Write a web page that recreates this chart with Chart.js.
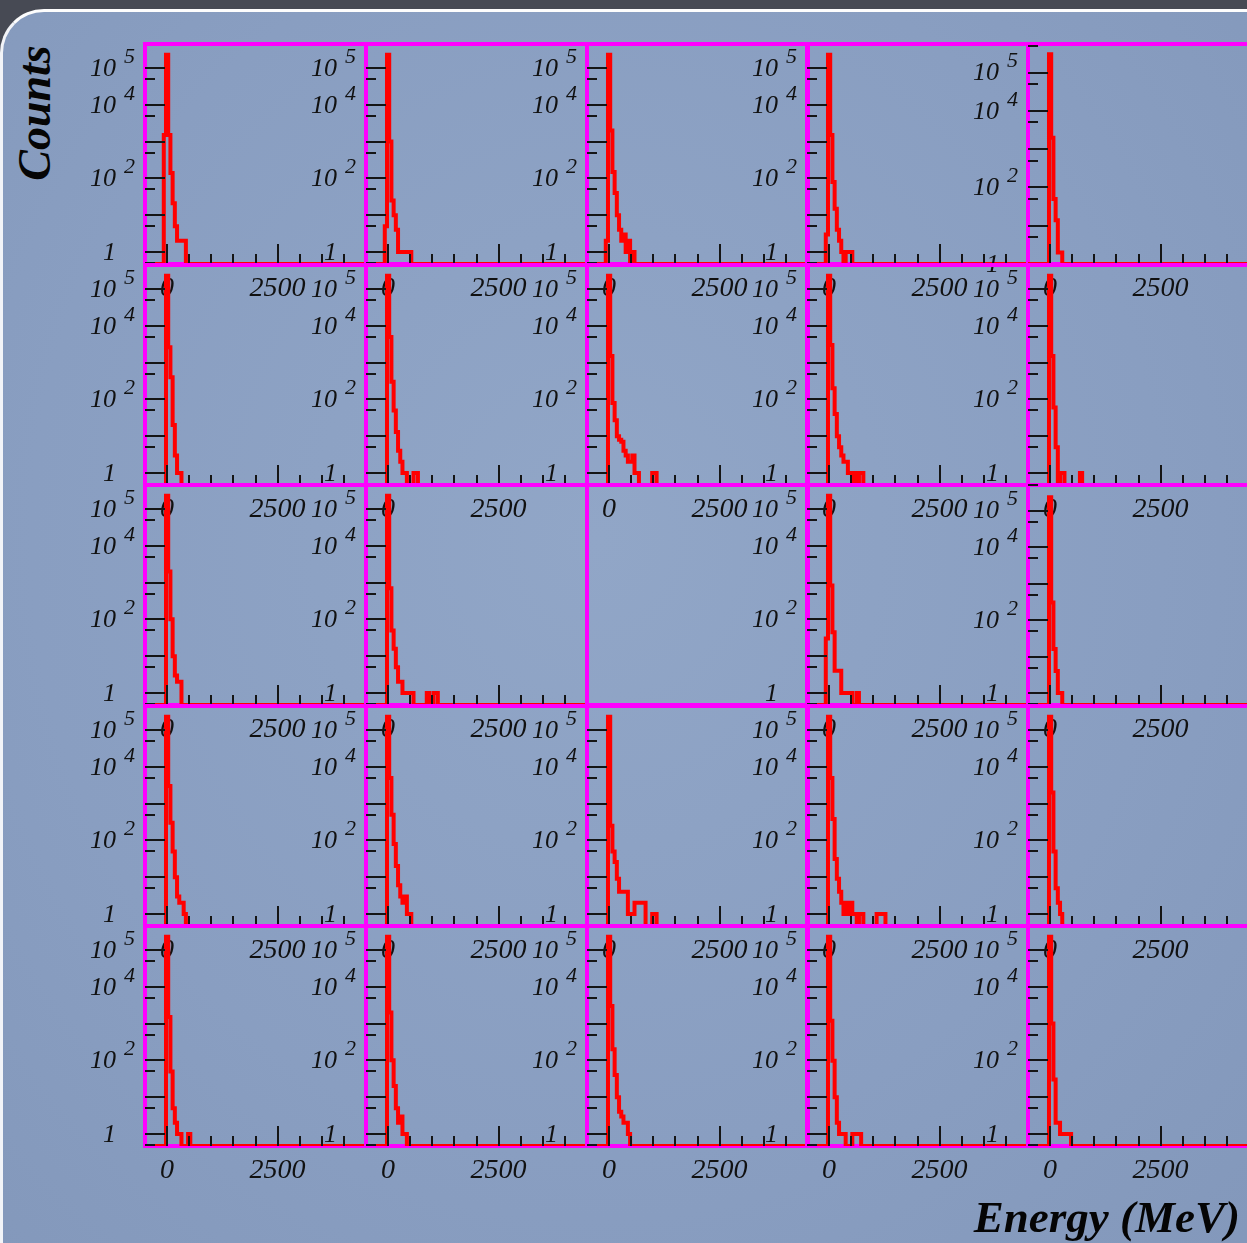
<!DOCTYPE html>
<html>
<head>
<meta charset="utf-8">
<script src="https://cdn.jsdelivr.net/npm/chart.js@4.4.1/dist/chart.umd.min.js"></script>
<style>
  html, body { margin: 0; padding: 0; }
  body {
    width: 1247px; height: 1243px; overflow: hidden; position: relative;
    background: #474a54;
    font-family: "Liberation Serif", "DejaVu Serif", serif;
  }
  .slide {
    position: absolute; left: 0; top: 9px; width: 1320px; height: 1320px;
    border-top: 3px solid #fdfdfd; border-left: 3px solid #f2f4f8;
    border-top-left-radius: 44px;
    background: radial-gradient(ellipse at 45% 40%, #91a6c7 0%, #899ec1 55%, #8196b9 100%);
  }
  canvas.panel { position: absolute; }
  .titre {
    position: absolute; font-weight: bold; font-style: italic; color: #050505;
    white-space: nowrap; line-height: 1;
  }
  #titre-y { left: 35px; top: 113px; font-size: 46px; transform: translate(-50%, -50%) rotate(-90deg); }
  #titre-x { right: 7px; top: 1195px; font-size: 45px; }
</style>
</head>
<body>
<div class="slide"></div>
<div id="panneaux"></div>
<div class="titre" id="titre-y">Counts</div>
<div class="titre" id="titre-x">Energy (MeV)</div>

<script>
// binning of every histogram (MeV)
const binLow = -75;
const binWidth = 50;
const xMin = -500;
const xMax = 4500;
const xTickLabels = [0, 2500];
const xMinorStep = 500;
const yTickLabels = [1, 100, 10000, 100000];

// counts per bin, first bin starts at binLow (row r, column c)
const h00 = [1500, 230000, 1500, 140, 21, 5, 2, 2, 2, 2];
const h01 = [5, 230000, 1000, 25, 10, 4, 1, 1, 1, 1, 1, 1];
const h02 = [2, 230000, 2000, 150, 40, 10, 4, 2, 3, 1, 2, 0, 1];
const h03 = [3, 230000, 1500, 80, 15, 4, 2, 1, 0, 1, 1, 1];
const h04 = [0, 300000, 2000, 50, 14, 2, 2];

const h10 = [0, 230000, 2600, 400, 20, 3, 1, 1];
const h11 = [0, 230000, 5000, 300, 50, 13, 4, 2, 1, 1, 0, 0, 0, 1, 1];
const h12 = [0, 230000, 1500, 80, 27, 10, 8, 7, 4, 3, 2, 2, 3, 1, 1, 0, 0, 0, 0, 0, 0, 1, 1];
const h13 = [0, 230000, 3000, 200, 40, 10, 5, 3, 2, 2, 1, 1, 0, 1, 0, 1, 1];
const h14 = [0, 230000, 1500, 60, 5, 0, 1, 1, 0, 0, 0, 0, 0, 0, 0, 1];

const h20 = [0, 230000, 2000, 100, 10, 3, 2, 2];
const h21 = [0, 230000, 700, 50, 16, 5, 2, 2, 1, 1, 1, 1, 1, 0, 0, 0, 0, 0, 0, 1, 0, 0, 1, 1];
const h22 = null; // canal vide
const h23 = [30, 230000, 830, 45, 4, 4, 4, 1, 1, 1, 1, 1, 0, 0, 1];
const h24 = [0, 230000, 300, 16, 4, 1, 1];

const h30 = [0, 230000, 3000, 300, 50, 10, 3, 2, 2, 1];
const h31 = [0, 230000, 5000, 500, 80, 20, 6, 3, 2, 3, 1, 1];
const h32 = [0, 230000, 250, 50, 26, 9, 4, 4, 4, 4, 1, 1, 1, 2, 2, 2, 2, 2, 0, 0, 0, 1, 1];
const h33 = [0, 230000, 5000, 380, 31, 9, 4, 2, 1, 2, 1, 2, 1, 1, 0, 1, 1, 0, 0, 0, 0, 0, 0, 1, 1, 1, 1];
const h34 = [0, 230000, 2000, 50, 5, 2, 1];

const h40 = [0, 230000, 1500, 50, 5, 2, 1, 1, 0, 0, 0, 1];
const h41 = [0, 230000, 2000, 100, 20, 5, 2, 3, 1, 1];
const h42 = [0, 230000, 3000, 200, 40, 10, 4, 3, 2, 2, 1];
const h43 = [0, 230000, 1200, 98, 10, 2, 1, 1, 1, 0, 0, 0, 1, 1, 1, 1];
const h44 = [0, 230000, 1000, 30, 2, 2, 1, 1, 1, 1, 1];

const histos = [
  [h00, h01, h02, h03, h04],
  [h10, h11, h12, h13, h14],
  [h20, h21, h22, h23, h24],
  [h30, h31, h32, h33, h34],
  [h40, h41, h42, h43, h44]
];

// log-axis limits per pad
const yMinGrid = [
  [0.47, 0.47, 0.47, 0.47, 1],
  [0.47, 0.47, 0.47, 0.47, 0.47],
  [0.47, 0.47, 0.47, 0.47, 0.47],
  [0.47, 0.47, 0.47, 0.47, 0.47],
  [0.47, 0.47, 0.47, 0.47, 0.47]
];
const yMaxGrid = [
  [4.5e5, 4.5e5, 4.5e5, 4.5e5, 5.6e5],
  [4.5e5, 4.5e5, 4.5e5, 4.5e5, 4.5e5],
  [4.5e5, 4.5e5, 4.5e5, 4.5e5, 5e5],
  [4.5e5, 4.5e5, 4.5e5, 4.5e5, 4.5e5],
  [4.5e5, 4.5e5, 4.5e5, 4.5e5, 4.5e5]
];

// geometrie des pads
const padGauche = 145, padHaut = 44, pasX = 220.75, pasY = 220.6;
const padL = 221, padH = 220;
const margeG = 75, margeH = 20, margeD = 10, margeB = 45;

function pointsHisto(counts, plancher) {
  const pts = [{ x: xMin, y: plancher }];
  counts.forEach((c, i) => pts.push({ x: binLow + i * binWidth, y: Math.max(c, plancher) }));
  pts.push({ x: binLow + counts.length * binWidth, y: plancher });
  pts.push({ x: xMax, y: plancher });
  return pts;
}

const axesRoot = {
  id: "axesRoot",
  beforeDatasetsDraw(chart) {
    const { ctx, chartArea: a } = chart;
    ctx.save();
    ctx.strokeStyle = "#ff00ff";
    ctx.lineWidth = 4;
    ctx.strokeRect(a.left, a.top, a.right - a.left, a.bottom - a.top);
    ctx.restore();
  },
  afterDatasetsDraw(chart, args, opts) {
    if (!opts.visible) return;
    const { ctx, chartArea: a } = chart;
    const xs = chart.scales.x, ys = chart.scales.y;
    ctx.save();
    ctx.strokeStyle = "#151515";
    ctx.lineWidth = 2;
    ctx.beginPath();
    for (let v = xs.min + xMinorStep; v < xs.max; v += xMinorStep) {
      const px = Math.round(xs.getPixelForValue(v));
      const lg = xTickLabels.includes(v) ? 20 : 10;
      ctx.moveTo(px, a.bottom);
      ctx.lineTo(px, a.bottom - lg);
    }
    const nBas = Math.floor(Math.log10(ys.min)), nHaut = Math.ceil(Math.log10(ys.max));
    for (let n = nBas; n <= nHaut; n++) {
      [[1, 20], [5, 10]].forEach(([m, lg]) => {
        const v = m * Math.pow(10, n);
        if (v < ys.min || v > ys.max) return;
        const py = Math.round(ys.getPixelForValue(v));
        ctx.moveTo(a.left, py);
        ctx.lineTo(a.left + lg, py);
      });
    }
    ctx.stroke();

    ctx.fillStyle = "#111";
    ctx.textBaseline = "middle";
    ctx.textAlign = "center";
    ctx.font = 'italic 28px "Liberation Serif"';
    xTickLabels.forEach(v => ctx.fillText(String(v), xs.getPixelForValue(v), a.bottom + 25));

    yTickLabels.forEach(v => {
      if (v < ys.min * 0.999 || v > ys.max) return;
      const py = ys.getPixelForValue(v) + 1;
      const e = Math.round(Math.log10(v));
      ctx.textAlign = "right";
      ctx.font = 'italic 26px "Liberation Serif"';
      ctx.fillText(e === 0 ? "1" : "10", a.left - 29, py);
      if (e > 0) {
        ctx.textAlign = "left";
        ctx.font = 'italic 22px "Liberation Serif"';
        ctx.fillText(String(e), a.left - 21, py - 12);
      }
    });
    ctx.restore();
  }
};

const conteneur = document.getElementById("panneaux");

histos.forEach((ligne, r) => {
  ligne.forEach((counts, c) => {
    const gauche = Math.round(padGauche + c * pasX);
    const haut = Math.round(padHaut + r * pasY);
    const canvas = document.createElement("canvas");
    canvas.className = "panel";
    canvas.width = margeG + padL + margeD;
    canvas.height = margeH + padH + margeB;
    canvas.style.left = (gauche - margeG) + "px";
    canvas.style.top = (haut - margeH) + "px";
    conteneur.appendChild(canvas);

    const plancher = yMinGrid[r][c];
    new Chart(canvas, {
      type: "line",
      data: {
        datasets: counts ? [{
          data: pointsHisto(counts, plancher),
          borderColor: "#ff0000",
          borderWidth: 4,
          stepped: true,
          pointRadius: 0,
          fill: false,
          borderJoinStyle: "miter",
          borderCapStyle: "butt"
        }] : []
      },
      options: {
        responsive: false,
        animation: false,
        devicePixelRatio: 1,
        events: [],
        layout: { padding: { left: margeG, top: margeH, right: margeD, bottom: margeB } },
        plugins: {
          legend: { display: false },
          tooltip: { enabled: false },
          axesRoot: { visible: counts !== null }
        },
        scales: {
          x: { type: "linear", min: xMin, max: xMax, display: false },
          y: { type: "logarithmic", min: plancher, max: yMaxGrid[r][c], display: false }
        }
      },
      plugins: [axesRoot]
    });
  });
});
</script>
</body>
</html>
